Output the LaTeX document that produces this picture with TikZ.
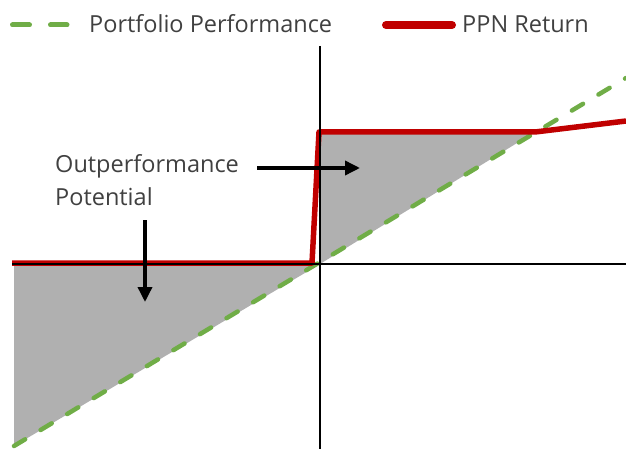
\documentclass[tikz,border=0pt]{standalone}
\usepackage{fontspec}
\setmainfont{Open Sans}
\usetikzlibrary{arrows.meta}
\definecolor{perfgreen}{RGB}{112,173,71}
\definecolor{ppnred}{RGB}{192,0,0}
\definecolor{areagray}{RGB}{176,176,176}
\definecolor{textgray}{RGB}{64,64,64}

\begin{document}
\begin{tikzpicture}[
    x=1pt, y=-1pt,
    >={Triangle[length=15pt, width=14pt]},
    perf/.style={perfgreen, line width=4.5pt, dash pattern=on 13pt off 18pt, line cap=round},
    ppn/.style={ppnred, line width=5.5pt, line join=round},
    axis/.style={black, line width=2pt},
    area/.style={fill=areagray, draw=none},
    arrow/.style={->, black, line width=3.5pt},
    label/.style={font=\fontsize{23.5}{32}\selectfont, text=textgray, inner sep=0pt}
]
\useasboundingbox (0,0) rectangle (626,449);

% Key points
\coordinate (origin) at (320,264);
\coordinate (floorL) at (12,263);
\coordinate (stepB) at (312,263);
\coordinate (stepT) at (319,132);
\coordinate (kink) at (535,132);
\coordinate (capR) at (626,121);
\coordinate (perfL) at (14,446);
\coordinate (perfR) at (626,78);

% Outperformance areas
\fill[area] (14,264) -- (origin) -- (perfL) -- cycle;
\fill[area] (320,132) -- (kink) -- (origin) -- cycle;

% Portfolio performance
\draw[perf] (perfL) -- (perfR);

% PPN return
\draw[ppn] (floorL) -- (stepB) -- (stepT) -- (kink) -- (capR);

% Axes
\coordinate (yTop) at (320,46);
\coordinate (yBot) at (320,449);
\coordinate (xLeft) at (12,264);
\coordinate (xRight) at (626,264);
\draw[axis] (yTop) -- (yBot);
\draw[axis] (xLeft) -- (xRight);

% Label and arrows
\node[label, anchor=base west] (outLbl) at (55,173) {Outperformance};
\node[label, anchor=base west] (potLbl) at (55,205) {Potential};
\coordinate (rightTail) at (257,168);
\coordinate (rightHead) at (360,168);
\coordinate (downTail) at (145,220);
\coordinate (downHead) at (145,302);
\draw[arrow] (rightTail) -- (rightHead);
\draw[arrow] (downTail) -- (downHead);

% Legend
\coordinate (greenA) at (12.5,25);
\coordinate (greenB) at (67,25);
\draw[perf, line width=5pt, dash pattern=on 17pt off 21pt] (greenA) -- (greenB);
\node[label, anchor=base west] (perfLbl) at (89,33) {Portfolio Performance};
\coordinate (redA) at (386,25);
\coordinate (redB) at (452,25);
\draw[ppn, line width=8pt, line cap=round] (redA) -- (redB);
\node[label, anchor=base west] (ppnLbl) at (462,33) {PPN Return};

\end{tikzpicture}
\end{document}
